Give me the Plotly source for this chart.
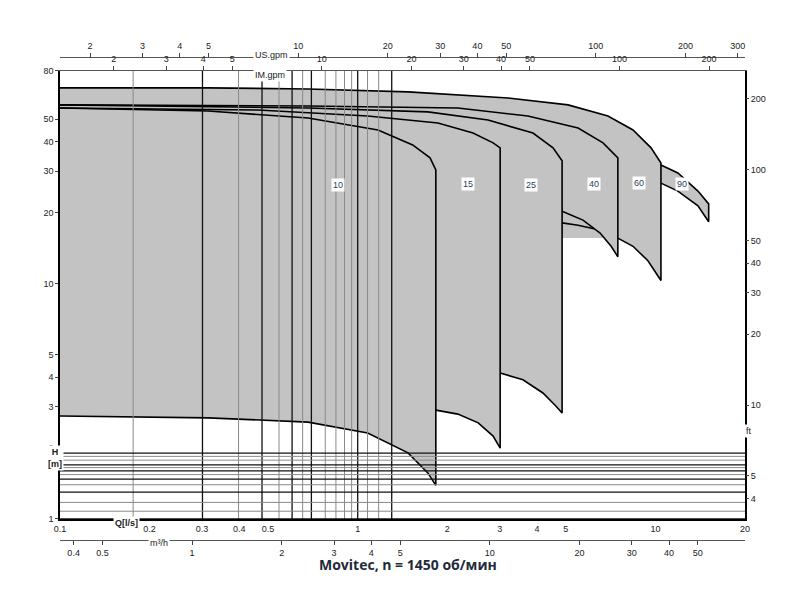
import numpy as np
import plotly.graph_objects as go

# pump curves, Q in l/s, H in m
top60_q = [0.1, 0.314, 0.681, 1.476, 3.20, 5.09, 6.93, 8.41, 9.67, 10.44]
top60_h = [67.8, 67.8, 67.1, 65.2, 61.4, 57.4, 51.5, 44.9, 37.7, 32.5]
bot60_q = [7.48, 8.41, 9.44, 10.44]
bot60_h = [15.6, 14.4, 12.5, 10.3]

top40_q = [0.1, 0.681, 2.17, 3.73, 5.50, 6.67, 7.48]
top40_h = [57.4, 56.8, 55.7, 51.5, 45.8, 39.6, 34.2]
bot40_q = [4.86, 5.71, 6.52, 7.10, 7.48]
bot40_h = [20.3, 18.6, 16.4, 14.4, 13.0]
mid40_q = [4.86, 5.50, 6.22]
mid40_h = [18.1, 17.7, 17.1]

top25_q = [0.1, 0.681, 1.72, 2.74, 3.88, 4.53, 4.86]
top25_h = [57.4, 55.7, 53.6, 49.5, 43.6, 37.7, 33.2]
bot25_q = [3.01, 3.59, 4.19, 4.63, 4.86]
bot25_h = [4.17, 3.90, 3.43, 3.02, 2.82]

top15_q = [0.1, 0.462, 1.08, 1.86, 2.44, 2.85, 3.01]
top15_h = [55.7, 54.6, 51.5, 48.1, 43.6, 39.6, 37.7]
bot15_q = [1.83, 2.17, 2.54, 2.85, 3.01]
bot15_h = [2.90, 2.79, 2.56, 2.25, 2.00]

top10_q = [0.1, 0.314, 0.681, 1.17, 1.53, 1.75, 1.83]
top10_h = [55.7, 54.1, 50.5, 44.9, 38.8, 34.2, 30.4]
bot10_q = [0.1, 0.314, 0.681, 1.08, 1.476, 1.72, 1.83]
bot10_h = [2.74, 2.69, 2.58, 2.32, 1.91, 1.57, 1.39]

top90_q = [10.44, 11.9, 13.9, 15.1]
top90_h = [31.9, 29.5, 24.7, 21.8]
bot90_q = [10.44, 11.9, 13.9, 15.1]
bot90_h = [26.7, 24.7, 21.4, 18.3]

labels = ["10", "15", "25", "40", "60", "90"]
label_q = [0.859, 2.35, 3.82, 6.22, 8.81, 12.3]
label_h = [26.2, 26.4, 26.2, 26.4, 26.7, 26.4]

q_ticks = [0.1, 0.2, 0.3, 0.4, 0.5, 1, 2, 3, 4, 5, 10, 20]
h_ticks = [1, 2, 3, 4, 5, 10, 20, 30, 40, 50, 80]
m3h_ticks = [0.4, 0.5, 1, 2, 3, 4, 5, 10, 20, 30, 40, 50]
usgpm_ticks = [2, 3, 4, 5, 10, 20, 30, 40, 50, 100, 200, 300]
imgpm_ticks = [2, 3, 4, 5, 10, 20, 30, 40, 50, 100, 200]
ft_ticks = [4, 5, 10, 20, 30, 40, 50, 100, 200]

q_minor = [0.12, 0.14, 0.15, 0.16, 0.25, 0.35, 0.45, 0.6, 0.7, 0.8, 0.9,
           1.2, 1.5, 2.5, 3.5, 4.5, 6, 7, 8, 9, 12, 15]
h_minor = [1.2, 1.5, 1.8, 2.5, 3.5, 4.5, 6, 7, 8, 9, 12, 15, 25, 35, 45, 60, 70]

FILL = "#c3c3c3"
fig = go.Figure()


def fill(q, h):
    fig.add_trace(go.Scatter(x=q, y=h, mode="lines", fill="toself", fillcolor=FILL,
                             line=dict(width=0), hoverinfo="skip"))


def curve(q, h, w=1.6):
    fig.add_trace(go.Scatter(x=q, y=h, mode="lines", line=dict(color="black", width=w),
                             hoverinfo="skip"))


fill(top10_q + bot10_q[::-1], top10_h + bot10_h[::-1])
fill(top15_q + bot15_q[::-1] + [0.1], top15_h + bot15_h[::-1] + [bot15_h[0]])
fill(top25_q + bot25_q[::-1] + [0.1], top25_h + bot25_h[::-1] + [bot25_h[0]])
fill(top40_q + bot40_q[::-1] + [0.1], top40_h + bot40_h[::-1] + [bot40_h[0]])
fill(top60_q + bot60_q[::-1] + [0.1], top60_h + bot60_h[::-1] + [bot60_h[0]])
fill(top90_q + bot90_q[::-1], top90_h + bot90_h[::-1])

curve(top10_q + bot10_q[::-1], top10_h + bot10_h[::-1])
curve(top15_q + bot15_q[::-1], top15_h + bot15_h[::-1])
curve(top25_q + bot25_q[::-1], top25_h + bot25_h[::-1])
curve(top40_q + bot40_q[::-1], top40_h + bot40_h[::-1])
curve(mid40_q, mid40_h)
curve(top60_q + bot60_q[::-1], top60_h + bot60_h[::-1])
curve(top90_q + [bot90_q[-1]] + bot90_q[::-1][1:], top90_h + [bot90_h[-1]] + bot90_h[::-1][1:])

# dummy traces for the secondary axes
fig.add_trace(go.Scatter(x=[1], y=[1], xaxis="x2", mode="markers", marker_opacity=0, hoverinfo="skip"))
fig.add_trace(go.Scatter(x=[10], y=[1], xaxis="x3", mode="markers", marker_opacity=0, hoverinfo="skip"))
fig.add_trace(go.Scatter(x=[10], y=[1], xaxis="x4", mode="markers", marker_opacity=0, hoverinfo="skip"))
fig.add_trace(go.Scatter(x=[1], y=[10], yaxis="y2", mode="markers", marker_opacity=0, hoverinfo="skip"))

# grid drawn as shapes so it sits above the grey fill
for v, col, w in [(v, "#8a8a8a", 1) for v in q_minor] + [(v, "#111", 1.3) for v in q_ticks]:
    fig.add_shape(type="line", xref="x", yref="y domain", x0=np.log10(v), x1=np.log10(v),
                  y0=0, y1=1, line=dict(color=col, width=w), layer="above")
for v, col, w in [(v, "#8a8a8a", 1) for v in h_minor] + [(v, "#111", 1.3) for v in h_ticks]:
    fig.add_shape(type="line", xref="x domain", yref="y", x0=0, x1=1,
                  y0=np.log10(v), y1=np.log10(v), line=dict(color=col, width=w), layer="above")

for t, q, h in zip(labels, label_q, label_h):
    fig.add_annotation(x=np.log10(q), y=np.log10(h), text=t, showarrow=False,
                       bgcolor="white", font=dict(family="Liberation Sans", size=9), borderpad=1)

qmin, qmax = 0.1, 20
hmin, hmax = 1, 80
ydom = [0.0803, 0.937]
tick = dict(family="Liberation Sans", size=9, color="#222")


def sec_axis(factor, vals, **kw):
    return dict(type="log", range=[np.log10(qmin * factor), np.log10(qmax * factor)],
                overlaying="x", tickvals=vals, ticktext=[str(v) for v in vals],
                showgrid=False, ticks="outside", ticklen=4, showline=True,
                linecolor="#555", tickfont=tick, automargin=False, **kw)


fig.update_layout(
    width=800, height=593, showlegend=False,
    plot_bgcolor="white", paper_bgcolor="white",
    margin=dict(l=52, r=63, t=30, b=40),
    xaxis=dict(type="log", range=[np.log10(qmin), np.log10(qmax)], tickvals=q_ticks,
               ticktext=[str(v) for v in q_ticks], showgrid=False, showline=True,
               linecolor="black", linewidth=1.5, ticks="", tickfont=tick, zeroline=False,
               automargin=False),
    yaxis=dict(type="log", range=[np.log10(hmin), np.log10(hmax)], domain=ydom,
               tickvals=h_ticks, ticktext=[str(v) for v in h_ticks], showgrid=False,
               showline=True, linecolor="black", linewidth=1.5, ticks="outside", ticklen=3,
               tickfont=tick, zeroline=False, mirror=True, automargin=False),
    xaxis2=sec_axis(3.6, m3h_ticks, anchor="free", position=0.040, side="bottom"),
    xaxis3=sec_axis(15.85, usgpm_ticks, anchor="free", position=0.9637, side="top"),
    xaxis4=sec_axis(13.2, imgpm_ticks, anchor="y", side="top"),
    yaxis2=dict(type="log", range=[np.log10(hmin * 3.281), np.log10(hmax * 3.281)],
                overlaying="y", side="right", tickvals=ft_ticks,
                ticktext=[str(v) for v in ft_ticks], showgrid=False, ticks="outside",
                ticklen=3, tickfont=tick, automargin=False),
)

ann = [("Q[l/s]", 0.077, 0.059, True), ("m³/h", 0.128, 0.021, False),
       ("US.gpm", 0.282, 0.981, False), ("IM.gpm", 0.282, 0.943, False),
       ("H<br>[m]", -0.020, 0.172, True), ("ft", 1.013, 0.235, False)]
for text, x, y, b in ann:
    fig.add_annotation(x=x, y=y, xref="paper", yref="paper", text=f"<b>{text}</b>" if b else text,
                       showarrow=False, font=tick, bgcolor="white")

fig.add_annotation(x=0.508, y=-0.029, xref="paper", yref="paper",
                   text="<b>Movitec, n = 1450 об/мин</b>", showarrow=False,
                   font=dict(family="Open Sans", size=14, color="#1f2a3a"))

fig.write_html("out.html")
